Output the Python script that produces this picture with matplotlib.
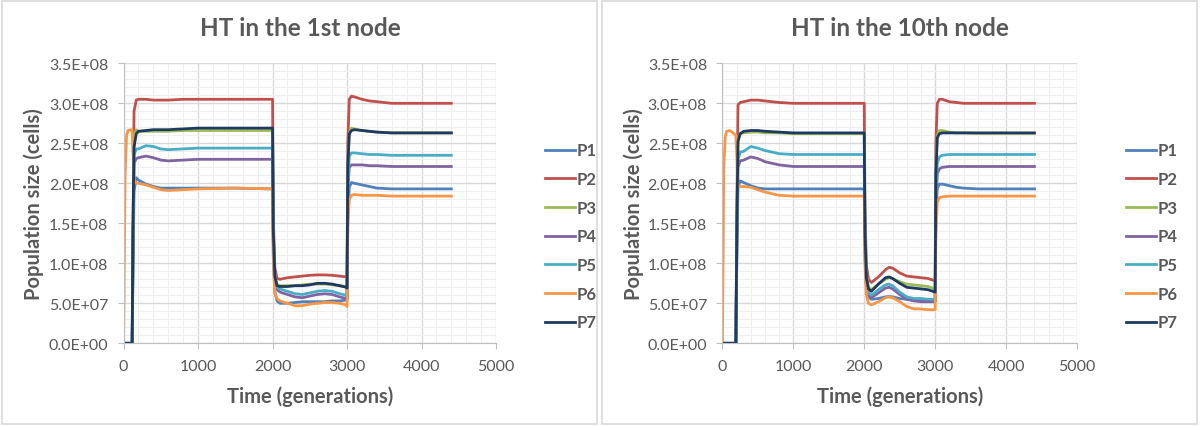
import matplotlib
matplotlib.use("Agg")
import matplotlib.pyplot as plt
from matplotlib.patches import Rectangle
from matplotlib.ticker import MultipleLocator, FuncFormatter

plt.rcParams['font.family'] = ['Lato', 'DejaVu Sans']

# series names and colours (Excel 2010 palette)
names = ['P1', 'P2', 'P3', 'P4', 'P5', 'P6', 'P7']
colors = ['#4F81BD', '#C0504D', '#9BBB59', '#8064A2', '#4BACC6', '#F79646', '#1F3A60']

# ---- HT in the 1st node (values in units of 1E+08 cells)
t_1st = [0, 20, 40, 60, 100, 115, 125, 140, 170, 200, 300, 400, 500, 600, 800, 1000, 1500, 2000,
         2010, 2030, 2060, 2100, 2200, 2300, 2400, 2500, 2600, 2700, 2800, 2900, 2990, 3000,
         3010, 3030, 3060, 3100, 3200, 3300, 3400, 3600, 3800, 4000, 4400]
p1_1st = [0, 0, 0, 0, 0, 0, 0.8, 1.9, 2.07, 2.04, 1.99, 1.96, 1.94, 1.94, 1.94, 1.94, 1.94, 1.93,
          1.1, 0.65, 0.53, 0.50, 0.50, 0.51, 0.52, 0.52, 0.52, 0.52, 0.53, 0.53, 0.54, 0.55,
          1.5, 1.95, 2.01, 2.00, 1.98, 1.96, 1.94, 1.93, 1.93, 1.93, 1.93]
p2_1st = [0, 0, 0, 0, 0, 0, 1.2, 2.9, 3.04, 3.05, 3.05, 3.04, 3.04, 3.04, 3.05, 3.05, 3.05, 3.05,
          1.6, 0.95, 0.81, 0.80, 0.82, 0.83, 0.84, 0.85, 0.855, 0.855, 0.85, 0.84, 0.83, 0.83,
          2.5, 3.05, 3.09, 3.08, 3.05, 3.03, 3.02, 3.00, 3.00, 3.00, 3.00]
p3_1st = [0, 0, 0, 0, 0, 0, 1.2, 2.6, 2.67, 2.65, 2.65, 2.65, 2.65, 2.65, 2.66, 2.66, 2.66, 2.66,
          1.4, 0.85, 0.73, 0.72, 0.72, 0.72, 0.73, 0.74, 0.74, 0.74, 0.73, 0.72, 0.71, 0.70,
          2.2, 2.64, 2.69, 2.68, 2.66, 2.65, 2.64, 2.63, 2.63, 2.63, 2.63]
p4_1st = [0, 0, 0, 0, 0, 0, 1.0, 2.25, 2.31, 2.32, 2.34, 2.32, 2.29, 2.28, 2.29, 2.30, 2.30, 2.30,
          1.3, 0.78, 0.67, 0.64, 0.61, 0.58, 0.57, 0.59, 0.61, 0.62, 0.61, 0.58, 0.56, 0.55,
          1.9, 2.20, 2.23, 2.23, 2.23, 2.22, 2.22, 2.21, 2.21, 2.21, 2.21]
p5_1st = [0, 0, 0, 0, 0, 0, 1.0, 2.35, 2.43, 2.43, 2.47, 2.46, 2.43, 2.42, 2.43, 2.44, 2.44, 2.44,
          1.35, 0.80, 0.70, 0.68, 0.65, 0.62, 0.61, 0.63, 0.65, 0.66, 0.65, 0.62, 0.60, 0.58,
          2.0, 2.34, 2.38, 2.38, 2.37, 2.36, 2.36, 2.35, 2.35, 2.35, 2.35]
p6_1st = [0, 2.1, 2.6, 2.66, 2.67, 2.66, 2.4, 2.05, 2.00, 2.00, 1.98, 1.95, 1.92, 1.91, 1.92, 1.93, 1.94, 1.93,
          1.05, 0.63, 0.56, 0.53, 0.50, 0.47, 0.47, 0.49, 0.50, 0.51, 0.51, 0.50, 0.48, 0.46,
          1.45, 1.80, 1.85, 1.86, 1.85, 1.85, 1.85, 1.84, 1.84, 1.84, 1.84]
p7_1st = [0, 0, 0, 0, 0, 0, 1.4, 2.45, 2.62, 2.65, 2.66, 2.67, 2.67, 2.67, 2.68, 2.69, 2.69, 2.69,
          1.4, 0.84, 0.72, 0.71, 0.71, 0.72, 0.72, 0.73, 0.75, 0.75, 0.74, 0.72, 0.70, 0.69,
          2.2, 2.62, 2.66, 2.67, 2.66, 2.65, 2.64, 2.63, 2.63, 2.63, 2.63]

# ---- HT in the 10th node
t_10th = [0, 20, 40, 60, 100, 150, 190, 205, 220, 250, 300, 400, 500, 600, 800, 1000, 1500, 2000,
          2010, 2030, 2060, 2100, 2200, 2300, 2350, 2400, 2500, 2600, 2700, 2800, 2900, 3000,
          3010, 3030, 3060, 3100, 3200, 3300, 3400, 3600, 3800, 4000, 4400]
p1_10th = [0, 0, 0, 0, 0, 0, 0, 1.2, 1.95, 2.03, 2.01, 1.97, 1.94, 1.93, 1.93, 1.93, 1.93, 1.93,
           1.1, 0.70, 0.58, 0.55, 0.56, 0.58, 0.585, 0.58, 0.56, 0.55, 0.54, 0.54, 0.54, 0.53,
           1.6, 1.94, 1.99, 1.99, 1.97, 1.95, 1.94, 1.93, 1.93, 1.93, 1.93]
p2_10th = [0, 0, 0, 0, 0, 0, 0, 1.8, 2.98, 3.01, 3.02, 3.04, 3.04, 3.03, 3.01, 3.00, 3.00, 3.00,
           1.7, 0.98, 0.80, 0.76, 0.83, 0.92, 0.95, 0.94, 0.88, 0.84, 0.83, 0.82, 0.81, 0.78,
           2.5, 3.00, 3.05, 3.05, 3.02, 3.01, 3.00, 3.00, 3.00, 3.00, 3.00]
p3_10th = [0, 0, 0, 0, 0, 0, 0, 1.5, 2.55, 2.62, 2.63, 2.64, 2.64, 2.63, 2.63, 2.62, 2.62, 2.62,
           1.45, 0.85, 0.70, 0.67, 0.74, 0.80, 0.82, 0.81, 0.77, 0.74, 0.73, 0.72, 0.71, 0.68,
           2.2, 2.60, 2.66, 2.66, 2.64, 2.63, 2.63, 2.625, 2.625, 2.625, 2.625]
p4_10th = [0, 0, 0, 0, 0, 0, 0, 1.3, 2.20, 2.28, 2.29, 2.33, 2.31, 2.27, 2.23, 2.21, 2.21, 2.21,
           1.25, 0.75, 0.60, 0.57, 0.63, 0.69, 0.70, 0.68, 0.61, 0.55, 0.53, 0.52, 0.52, 0.52,
           1.7, 2.12, 2.18, 2.20, 2.21, 2.21, 2.21, 2.21, 2.21, 2.21, 2.21]
p5_10th = [0, 0, 0, 0, 0, 0, 0, 1.4, 2.30, 2.39, 2.40, 2.46, 2.44, 2.41, 2.37, 2.36, 2.36, 2.36,
           1.3, 0.78, 0.63, 0.60, 0.67, 0.73, 0.74, 0.72, 0.64, 0.58, 0.56, 0.56, 0.55, 0.55,
           1.8, 2.25, 2.33, 2.35, 2.36, 2.36, 2.36, 2.36, 2.36, 2.36, 2.36]
p6_10th = [0, 2.2, 2.58, 2.65, 2.66, 2.63, 2.60, 2.3, 1.98, 1.96, 1.96, 1.95, 1.92, 1.89, 1.85, 1.84, 1.84, 1.84,
           1.0, 0.60, 0.50, 0.48, 0.52, 0.57, 0.58, 0.57, 0.52, 0.46, 0.43, 0.43, 0.42, 0.42,
           1.4, 1.76, 1.82, 1.83, 1.84, 1.84, 1.84, 1.84, 1.84, 1.84, 1.84]
p7_10th = [0, 0, 0, 0, 0, 0, 0, 1.6, 2.52, 2.62, 2.65, 2.66, 2.66, 2.65, 2.64, 2.63, 2.63, 2.63,
           1.4, 0.82, 0.68, 0.65, 0.74, 0.82, 0.83, 0.81, 0.75, 0.70, 0.69, 0.68, 0.67, 0.64,
           2.1, 2.57, 2.62, 2.63, 2.63, 2.63, 2.63, 2.63, 2.63, 2.63, 2.63]

panels = [
    ('HT in the 1st node', t_1st, [p1_1st, p2_1st, p3_1st, p4_1st, p5_1st, p6_1st, p7_1st]),
    ('HT in the 10th node', t_10th, [p1_10th, p2_10th, p3_10th, p4_10th, p5_10th, p6_10th, p7_10th]),
]

W, H = 1200, 427
fig = plt.figure(figsize=(W / 100, H / 100), dpi=100)

# axes boxes in pixels: left, top, right, bottom
boxes = [(123.6, 64.3, 496, 344.3), (722.4, 64.3, 1077, 344.3)]
ylabel_x = [33.7, 633.7]
legend_x = [537, 1118]
text_col = '#595959'

for (title, t, series), (l, tp, r, b), yx, lx, k in zip(panels, boxes, ylabel_x, legend_x, range(2)):
    ax = fig.add_axes([l / W, 1 - b / H, (r - l) / W, (b - tp) / H])
    for name, vals, c in zip(names, series, colors):
        ax.plot(t, [v * 1e8 for v in vals], color=c, lw=2.0, label=name,
                solid_joinstyle='round')
    ax.set_xlim(0, 5000)
    ax.set_ylim(0, 3.5e8)
    ax.xaxis.set_major_locator(MultipleLocator(1000))
    ax.xaxis.set_minor_locator(MultipleLocator(200))
    ax.yaxis.set_major_locator(MultipleLocator(0.5e8))
    ax.yaxis.set_minor_locator(MultipleLocator(0.1e8))
    ax.yaxis.set_major_formatter(FuncFormatter(lambda v, p: '%.1E' % v))
    ax.grid(which='major', color='#D9D9D9', lw=1.0)
    ax.grid(which='minor', color='#EFEFEF', lw=0.8)
    ax.set_axisbelow(True)
    for s in ['top', 'right']:
        ax.spines[s].set_visible(False)
    for s in ['left', 'bottom']:
        ax.spines[s].set_color('#BFBFBF')
    ax.tick_params(axis='x', which='major', length=4, color='#BFBFBF', labelsize=11.5,
                   labelcolor=text_col, pad=7)
    ax.tick_params(axis='y', which='major', length=4, color='#BFBFBF', labelsize=11.5,
                   labelcolor=text_col, pad=7)
    ax.tick_params(which='minor', length=0)
    ax.set_xlabel('Time (generations)', fontsize=14.5, fontweight='bold', color=text_col,
                  va='center')
    ax.xaxis.set_label_coords(0.5, (b - 397) / (b - tp))
    ax.set_ylabel('Population size (cells)', fontsize=14.5, fontweight='bold', color=text_col,
                  va='center')
    ax.yaxis.set_label_coords((yx - l) / (r - l), 0.5)

    fig.text((k * 600 + 300) / W, 1 - 28 / H, title, ha='center', va='center',
             fontsize=17.5, fontweight='bold', color=text_col)

    leg = ax.legend(loc='center left', bbox_to_anchor=(lx / W, 1 - 237.5 / H),
                    bbox_transform=fig.transFigure, frameon=False, borderpad=0,
                    handlelength=1.75, handletextpad=0.15, labelspacing=0.76,
                    prop={'size': 12, 'weight': 'bold'})
    for txt in leg.get_texts():
        txt.set_color(text_col)

    # light grey frame around each chart
    fig.add_artist(Rectangle(((k * 600 + 2) / W, 2 / H), 595 / W, 423 / H,
                             transform=fig.transFigure, fill=False,
                             edgecolor='#D9D9D9', lw=1.2))

fig.savefig('out.png', dpi=100, facecolor='white')
